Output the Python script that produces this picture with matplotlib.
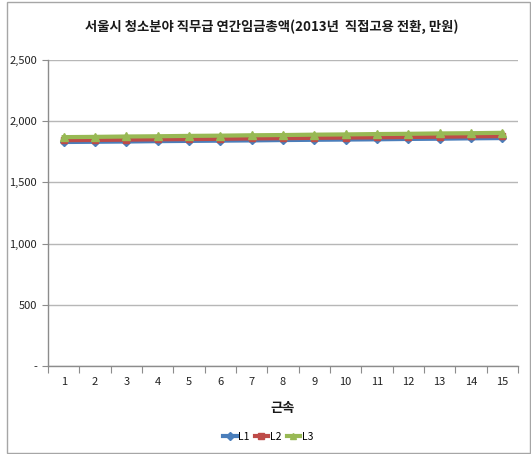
import matplotlib
matplotlib.use("Agg")
import matplotlib.pyplot as plt
from matplotlib.patches import Rectangle
from matplotlib.ticker import FuncFormatter, FixedLocator, NullFormatter

plt.rcParams['font.family'] = ['Noto Sans CJK KR', 'DejaVu Sans']

# 근속 연차
years = list(range(1, 16))
# 직무급 단계별 연간임금총액 (만원)
L1 = [1830, 1832, 1834, 1837, 1839, 1841, 1843, 1846, 1848, 1850, 1852, 1855, 1857, 1860, 1862]
L2 = [1845, 1847, 1849, 1852, 1854, 1856, 1859, 1861, 1864, 1866, 1868, 1871, 1873, 1876, 1878]
L3 = [1870, 1872, 1875, 1877, 1880, 1882, 1885, 1887, 1890, 1892, 1895, 1897, 1900, 1902, 1905]
series_names = ['L1', 'L2', 'L3']
y_ticks = [0, 500, 1000, 1500, 2000, 2500]

W, H = 531, 454
fig = plt.figure(figsize=(W / 100, H / 100), dpi=100)
fig.patch.set_facecolor('white')

# outer chart frame
fig.add_artist(Rectangle((7 / W, 1 / H), (W - 8) / W, (H - 3) / H,
                         transform=fig.transFigure, fill=False,
                         edgecolor='#a6a6a6', linewidth=1.0))

left, right, top, bottom = 48, 518, 60, 366
ax = fig.add_axes([left / W, 1 - bottom / H, (right - left) / W, (bottom - top) / H])

colors = ['#4a7ebb', '#be4b48', '#98b954']
markers = ['D', 's', '^']
msizes = [4.5, 5, 5.5]
for name, vals, c, m, ms in zip(series_names, [L1, L2, L3], colors, markers, msizes):
    ax.plot(years, vals, color=c, linewidth=3.0, marker=m, markersize=ms,
            markeredgecolor=c, label=name, zorder=3)

ax.set_xlim(0.5, 15.5)
ax.set_ylim(0, 2500)
ax.set_yticks(y_ticks)
ax.yaxis.set_major_formatter(FuncFormatter(lambda v, p: '-' if v == 0 else f'{int(v):,}'))
ax.grid(axis='y', color='#b7b7b7', linewidth=1.0)
ax.set_axisbelow(True)

# category ticks between categories, labels at category centres
ax.xaxis.set_major_locator(FixedLocator([x + 0.5 for x in [0] + years]))
ax.xaxis.set_major_formatter(NullFormatter())
ax.xaxis.set_minor_locator(FixedLocator(years))
ax.xaxis.set_minor_formatter(FuncFormatter(lambda v, p: str(int(v))))
ax.tick_params(axis='x', which='major', length=5, color='#8c8c8c', direction='out')
ax.tick_params(axis='x', which='minor', length=0, pad=8, labelsize=8, labelcolor='#222222')
ax.tick_params(axis='y', length=4, color='#8c8c8c', direction='out', pad=4,
               labelsize=8, labelcolor='#222222')

for s in ['top', 'right']:
    ax.spines[s].set_visible(False)
for s in ['left', 'bottom']:
    ax.spines[s].set_color('#8c8c8c')
    ax.spines[s].set_linewidth(1.0)

fig.text(272 / W, 1 - 27 / H, '서울시 청소분야 직무급 연간임금총액(2013년  직접고용 전환, 만원)',
         ha='center', va='center', fontsize=9.6, fontweight='bold', color='#1a1a1a')
fig.text(283 / W, 1 - 408 / H, '근속', ha='center', va='center',
         fontsize=9.5, fontweight='bold', color='#1a1a1a')

leg = fig.legend(loc='center', bbox_to_anchor=(268 / W, 1 - 437 / H), ncol=3,
                 frameon=False, fontsize=7.5, handlelength=1.3, handletextpad=0.15,
                 columnspacing=0.5, markerscale=0.8)

fig.savefig('out.png', dpi=100, facecolor='white')
